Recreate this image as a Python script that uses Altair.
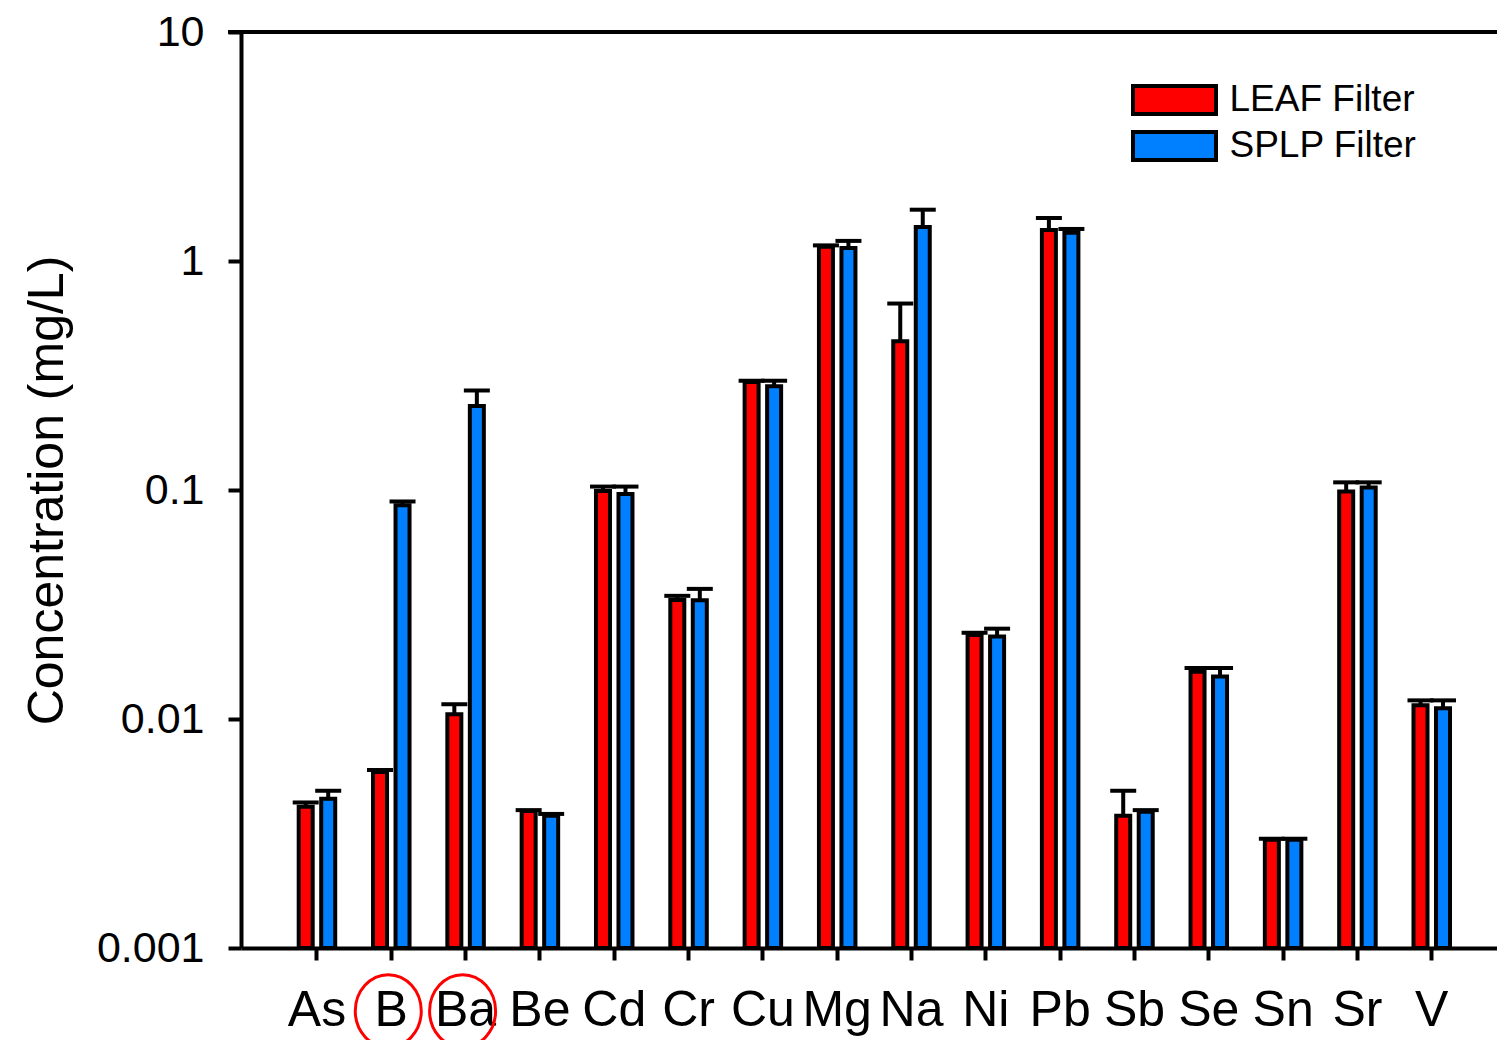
import altair as alt
import pandas as pd

elements = ["As", "B", "Ba", "Be", "Cd", "Cr", "Cu", "Mg", "Na", "Ni", "Pb", "Sb", "Se", "Sn", "Sr", "V"]
series = ["LEAF Filter", "SPLP Filter"]
colors = ["#ff0000", "#0080ff"]

leaf_mean = [0.00414, 0.00587, 0.0105, 0.00397, 0.099, 0.0331, 0.296, 1.153, 0.446, 0.0233, 1.367, 0.00378, 0.0161, 0.00297, 0.0985, 0.01148]
leaf_upper = [0.00432, 0.00599, 0.0116, 0.0040, 0.1035, 0.0345, 0.300, 1.17, 0.652, 0.0238, 1.541, 0.00486, 0.0167, 0.0030, 0.108, 0.01206]
splp_mean = [0.00448, 0.0857, 0.233, 0.00378, 0.096, 0.033, 0.284, 1.14, 1.409, 0.0229, 1.328, 0.00394, 0.01535, 0.00297, 0.1025, 0.01114]
splp_upper = [0.00486, 0.0891, 0.272, 0.00385, 0.1035, 0.037, 0.300, 1.224, 1.675, 0.0248, 1.38, 0.0040, 0.0167, 0.0030, 0.108, 0.01206]

y_ticks = [0.001, 0.01, 0.1, 1, 10]
y_floor = 0.001
circled = ["B", "Ba"]

rows = []
for i, e in enumerate(elements):
    rows.append(dict(element=e, series=series[0], value=leaf_mean[i], upper=leaf_upper[i], base=y_floor))
    rows.append(dict(element=e, series=series[1], value=splp_mean[i], upper=splp_upper[i], base=y_floor))
df = pd.DataFrame(rows)

FONT = "Liberation Sans"
W, H = 1256, 916
TOP = 24

x_axis = alt.Axis(title=None, labelAngle=0, labelFontSize=50, labelPadding=25, tickSize=12,
                  labelOverlap=False, labelFont=FONT, labelColor="black")
x_enc = alt.X("element:N", sort=elements,
              scale=alt.Scale(paddingInner=0, paddingOuter=0.45, align=0.58), axis=x_axis)
xoff_enc = alt.XOffset("series:N", sort=series,
                       scale=alt.Scale(paddingInner=0.378, paddingOuter=0.84))
y_axis = alt.Axis(title="Concentration (mg/L)", values=y_ticks, format="~g", labelFontSize=43,
                  labelPadding=24, tickSize=13, titleFontSize=50, titleFontWeight="normal",
                  titlePadding=24, labelFont=FONT, titleFont=FONT, labelColor="black", titleColor="black")
y_scale = alt.Scale(type="log", domain=[0.001, 10], nice=False)

# legend swatch: 83 x 28 px drawn, laid out in a 44 px box
legend_swatch = "M-1.886,-0.636H1.886V0.636H-1.886Z"

bars = alt.Chart(df).mark_bar(stroke="black", strokeWidth=4).encode(
    x=x_enc, xOffset=xoff_enc,
    y=alt.Y("value:Q", scale=y_scale, axis=y_axis),
    y2=alt.Y2("base:Q"),
    color=alt.Color("series:N", scale=alt.Scale(domain=series, range=colors),
                    legend=alt.Legend(title=None, orient="none", legendX=909.5, legendY=76 - (8 + TOP),
                                      symbolType=legend_swatch, symbolSize=1936,
                                      symbolStrokeColor="black", symbolStrokeWidth=4,
                                      symbolOpacity=1, labelFontSize=37, labelFont=FONT,
                                      labelColor="black", labelOffset=31, rowPadding=-3,
                                      labelLimit=0, padding=0)),
)

err = alt.Chart(df).mark_rule(color="black", strokeWidth=4).encode(
    x=x_enc, xOffset=xoff_enc,
    y=alt.Y("value:Q", scale=y_scale, axis=y_axis),
    y2=alt.Y2("upper:Q"),
)

caps = alt.Chart(df).mark_tick(color="black", thickness=4, size=26, opacity=1).encode(
    x=x_enc, xOffset=xoff_enc,
    y=alt.Y("upper:Q", scale=y_scale, axis=y_axis),
)

ellipse = "M-1,0A1,1.1,0,1,0,1,0A1,1.1,0,1,0,-1,0Z"
circles = alt.Chart(pd.DataFrame({"element": circled})).mark_point(
    shape=ellipse, size=4356, filled=False, stroke="red", strokeWidth=3, opacity=1, xOffset=-3
).encode(x=x_enc, y=alt.value(1011 - 8 - TOP))

top_line = alt.Chart(pd.DataFrame({"a": [0]})).mark_rule(color="black", strokeWidth=4).encode(
    x=alt.value(-13), x2=alt.value(W), y=alt.value(0)
)

chart = alt.layer(bars, err, caps, circles, top_line).properties(
    width=W, height=H,
    autosize=alt.AutoSizeParams(type="none"),
    padding={"left": 233, "top": TOP, "right": 0, "bottom": 92},
    background="white",
).configure_view(stroke=None).configure_axis(
    domainColor="black", domainWidth=4, tickColor="black", tickWidth=4, grid=False
)

chart.save("out.html", embed_options={"renderer": "svg", "actions": False})
